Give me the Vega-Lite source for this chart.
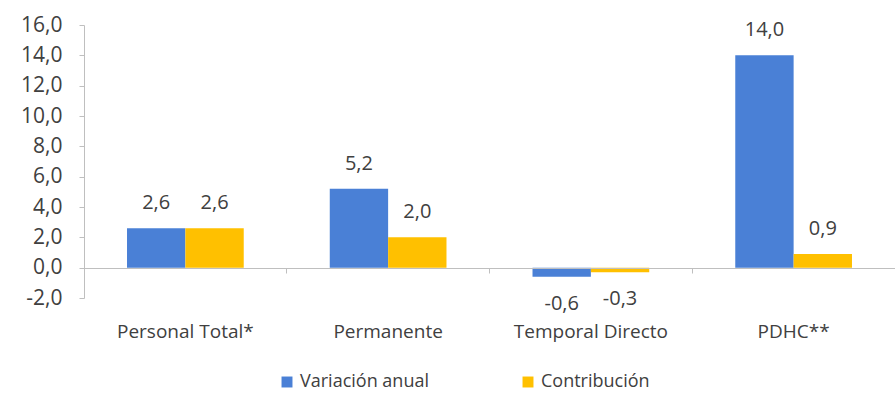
{
  "$schema": "https://vega.github.io/schema/vega-lite/v6.json",
  "width": 811,
  "height": 273,
  "autosize": {"type": "none"},
  "padding": {"left": 84, "top": 25, "right": 0, "bottom": 104},
  "config": {
    "view": {"stroke": null},
    "font": "Open Sans",
    "locale": {"number": {"decimal": ",", "thousands": ".", "grouping": [3], "currency": ["", " €"], "minus": "-"}}
  },
  "data": {
    "values": [
      {"categoria": "Personal Total*", "serie": "Variación anual", "valor": 2.6},
      {"categoria": "Personal Total*", "serie": "Contribución", "valor": 2.6},
      {"categoria": "Permanente", "serie": "Variación anual", "valor": 5.2},
      {"categoria": "Permanente", "serie": "Contribución", "valor": 2.0},
      {"categoria": "Temporal Directo", "serie": "Variación anual", "valor": -0.6},
      {"categoria": "Temporal Directo", "serie": "Contribución", "valor": -0.3},
      {"categoria": "PDHC**", "serie": "Variación anual", "valor": 14.0},
      {"categoria": "PDHC**", "serie": "Contribución", "valor": 0.9}
    ]
  },
  "encoding": {
    "x": {
      "field": "categoria", "type": "nominal", "sort": null,
      "scale": {"paddingInner": 0, "paddingOuter": 0},
      "axis": {
        "title": null, "orient": "bottom", "offset": -30, "labelAngle": 0,
        "domainColor": "#bfbfbf", "tickColor": "#bfbfbf", "tickSize": 5,
        "bandPosition": 0, "labelPadding": 49, "labelFontSize": 19,
        "labelColor": "#404040", "zindex": 1
      }
    },
    "xOffset": {
      "field": "serie", "type": "nominal", "sort": ["Variación anual", "Contribución"],
      "scale": {"paddingInner": 0, "paddingOuter": 0.737}
    },
    "y": {
      "field": "valor", "type": "quantitative",
      "scale": {"domain": [-2, 16], "nice": false, "zero": false},
      "axis": {
        "title": null, "values": [-2, 0, 2, 4, 6, 8, 10, 12, 14, 16], "format": ".1f",
        "grid": false, "domainColor": "#bfbfbf", "tickColor": "#bfbfbf", "tickSize": 5,
        "labelFontSize": 21, "labelColor": "#404040", "labelPadding": 17
      }
    }
  },
  "layer": [
    {
      "mark": {"type": "bar"},
      "encoding": {
        "color": {
          "field": "serie", "type": "nominal",
          "scale": {"domain": ["Variación anual", "Contribución"], "range": ["#4a80d6", "#ffc000"]},
          "legend": {
            "title": null, "orient": "none", "direction": "horizontal",
            "legendX": 194, "legendY": 348, "symbolType": "square", "symbolSize": 120,
            "symbolStrokeWidth": 0, "labelFontSize": 18, "labelColor": "#404040",
            "columnPadding": 90, "labelOffset": 4
          }
        }
      }
    },
    {
      "transform": [{"filter": "datum.valor >= 0"}],
      "mark": {"type": "text", "dy": -25, "fontSize": 20, "color": "#404040", "baseline": "middle"},
      "encoding": {"text": {"field": "valor", "type": "quantitative", "format": ".1f"}}
    },
    {
      "transform": [{"filter": "datum.valor < 0"}],
      "mark": {"type": "text", "dy": 27, "fontSize": 20, "color": "#404040", "baseline": "middle"},
      "encoding": {"text": {"field": "valor", "type": "quantitative", "format": ".1f"}}
    }
  ]
}
